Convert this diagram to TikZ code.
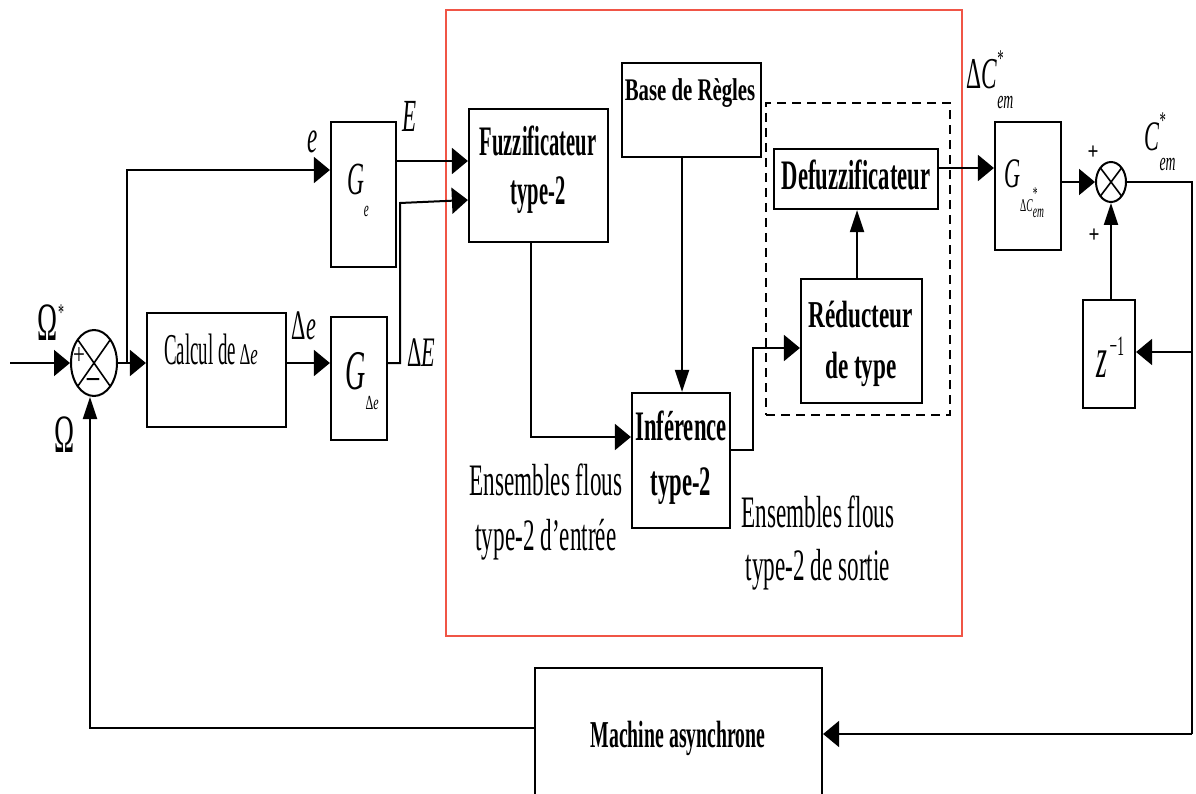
\documentclass[tikz,border=0pt]{standalone}
\usepackage{graphicx}
\usepackage{fontspec}
\setmainfont{Liberation Serif}
\usetikzlibrary{arrows.meta,shapes.geometric,calc}
\newcommand{\txt}[4]{\scalebox{#3}[1]{\fontsize{#1}{#2}\selectfont\begin{tabular}{@{}c@{}}#4\end{tabular}}}
\newcommand{\sm}[2]{{\fontsize{#1}{#1}\selectfont #2}}
\definecolor{redline}{RGB}{240,85,70}
\begin{document}
\begin{tikzpicture}[x=1pt,y=-1pt,line width=2pt,
  blk/.style={draw,line width=2.2pt,inner sep=0pt},
  sumj/.style={draw,ellipse,line width=2pt,inner sep=0pt},
  ha/.style={-{Triangle[length=16pt,width=26pt]}},
  va/.style={-{Triangle[length=22pt,width=14pt]}},
  tx/.style={inner sep=0pt}]
\clip (0,0) rectangle (1196,794);
\fill[white] (0,0) rectangle (1196,794);

% red frame
\node[draw=redline,line width=2pt,minimum width=516pt,minimum height=626pt,inner sep=0pt] (redbox) at (704,323) {};
% dashed frame
\node[draw,dashed,dash pattern=on 9pt off 6pt,line width=2pt,minimum width=184pt,minimum height=312pt,inner sep=0pt] (dbox) at (858,259) {};

% blocks
\node[blk,minimum width=139pt,minimum height=114pt] (calc) at (216.5,370) {};
\node[blk,minimum width=65pt,minimum height=145pt] (Ge) at (363.5,194.5) {};
\node[blk,minimum width=56pt,minimum height=123pt] (Gde) at (359,378.5) {};
\node[blk,minimum width=139pt,minimum height=133pt] (fuzz) at (538.5,175.5) {};
\node[blk,minimum width=139pt,minimum height=94pt] (base) at (691.5,110) {};
\node[blk,minimum width=98pt,minimum height=135pt] (infer) at (681,460.5) {};
\node[blk,minimum width=164pt,minimum height=60pt] (defuzz) at (856,179) {};
\node[blk,minimum width=121pt,minimum height=124pt] (reduct) at (861.5,341) {};
\node[blk,minimum width=66pt,minimum height=128pt] (Gdc) at (1028,186) {};
\node[blk,minimum width=52pt,minimum height=108pt] (z) at (1109,354) {};
\node[blk,minimum width=287pt,minimum height=150pt] (machine) at (678.5,743) {};

% summing junctions
\node[sumj,minimum width=46pt,minimum height=66pt] (s1) at (94,363) {};
\draw[line width=1.6pt] ($(s1.center)+(-16.3,-23.3)$) -- ($(s1.center)+(16.3,23.3)$);
\draw[line width=1.6pt] ($(s1.center)+(-16.3,23.3)$) -- ($(s1.center)+(16.3,-23.3)$);
\node[sumj,minimum width=30pt,minimum height=40pt] (s2) at (1111,182) {};
\draw[line width=1.6pt] ($(s2.center)+(-10.6,-14.1)$) -- ($(s2.center)+(10.6,14.1)$);
\draw[line width=1.6pt] ($(s2.center)+(-10.6,14.1)$) -- ($(s2.center)+(10.6,-14.1)$);

% texts in blocks
\node[tx] (calcT) at (211,355) {\txt{44}{49}{0.43}{Calcul de\hspace{8pt}\scalebox{1.3}[1]{\sm{30}{Δ\textit{e}}}}};
\node[tx] (fuzzT) at (538,170) {\txt{42}{49}{0.49}{\bfseries Fuzzificateur\\\bfseries type-2}};
\node[tx] (baseT) at (690,93) {\txt{31.5}{36}{0.66}{\bfseries Base de Règles}};
\node[tx] (inferT) at (681,457) {\txt{42}{55}{0.54}{\bfseries Inférence\\\bfseries type-2}};
\node[tx] (defuzzT) at (856,180) {\txt{42}{49}{0.54}{\bfseries Defuzzificateur}};
\node[tx] (reductT) at (861,343) {\txt{38}{51}{0.61}{\bfseries Réducteur\\\bfseries de type}};
\node[tx] (machT) at (678,739) {\txt{38}{44}{0.52}{\bfseries Machine asynchrone}};
\node[tx] (GeT) at (358,190) {\txt{46}{46}{0.51}{\textit{G}\raisebox{-22pt}{\sm{22}{\textit{e}}}}};
\node[tx] (GdeT) at (362,380) {\txt{56}{56}{0.5}{\textit{G}\raisebox{-20pt}{\scalebox{1.2}[1]{\sm{20}{Δ\textit{e}}}}}};
\node[tx] (GdcT) at (1024,188) {\txt{42}{42}{0.53}{\textit{G}\raisebox{-24pt}{\sm{18}{Δ\textit{C}\rlap{\raisebox{12pt}{*}}\raisebox{-6pt}{\textit{em}}}}}};
\node[tx] (zT) at (1110,358) {\txt{58}{58}{0.48}{\raisebox{-8pt}{\textit{z}}\hspace{6pt}\raisebox{14pt}{\sm{28}{−1}}}};

% signs
\node[tx] (p1) at (79,358) {\txt{30}{30}{0.7}{+}};
\node[tx] (m1) at (93,383) {\txt{30}{30}{0.9}{\bfseries −}};
\node[tx] (p2) at (1093,155) {\txt{24}{24}{0.8}{\bfseries +}};
\node[tx] (p3) at (1094,238) {\txt{24}{24}{0.8}{\bfseries +}};

% signal labels
\node[tx] (OmS) at (48,330) {\txt{54}{54}{0.5}{Ω\rlap{\raisebox{20pt}{\sm{24}{*}}}}};
\node[tx] (Om) at (65,442) {\txt{54}{54}{0.5}{Ω}};
\node[tx] (eL) at (313,143) {\txt{46}{46}{0.5}{\textit{e}}};
\node[tx] (EL) at (410,122) {\txt{46}{46}{0.5}{\textit{E}}};
\node[tx] (deL) at (304,331) {\txt{42}{42}{0.53}{Δ\textit{e}}};
\node[tx] (dEL) at (421,358) {\txt{42}{42}{0.53}{Δ\textit{E}}};
\node[tx] (dCL) at (990,80) {\txt{44}{44}{0.53}{Δ\textit{C}\rlap{\raisebox{22pt}{\sm{24}{*}}}\raisebox{-20pt}{\sm{26}{\textit{em}}}}};
\node[tx] (CL) at (1160,142) {\txt{42}{42}{0.53}{\textit{C}\rlap{\raisebox{22pt}{\sm{24}{*}}}\raisebox{-20pt}{\sm{26}{\textit{em}}}}};
\node[tx] (ensIn) at (546,512) {\txt{45}{55}{0.515}{Ensembles flous\\type-2 d’entrée}};
\node[tx] (ensOut) at (818,543) {\txt{45}{53}{0.515}{Ensembles flous\\type-2 de sortie}};

% connectors
\coordinate (in) at (10,363);
\draw[ha] (in) -- (s1.west);
\draw[ha] (s1.east) -- (s1.east -| calc.west);
\coordinate (br1) at (127,363);
\draw[ha] (br1) |- (Ge.west |- 0,170);
\draw[ha] (Ge.east |- 0,161) -- (fuzz.west |- 0,161);
\draw[ha] (calc.east |- 0,363) -- (Gde.west |- 0,363);
\coordinate (k1) at (400,363);
\coordinate (k2) at (400,203);
\draw[ha] (Gde.east |- 0,363) -- (k1) -- (k2) -- (fuzz.west |- 0,200);
\draw[ha] (fuzz.south -| 531,0) |- (infer.west |- 0,437);
\draw[va] (base.south -| 682,0) -- (infer.north -| 682,0);
\coordinate (k3) at (753,450);
\draw[ha] (infer.east |- 0,450) -- (k3) |- (reduct.west |- 0,348);
\draw[va] (reduct.north -| 857,0) -- (defuzz.south -| 857,0);
\draw[ha] (defuzz.east |- 0,168) -- (Gdc.west |- 0,168);
\draw[ha] (Gdc.east |- 0,182) -- (s2.west);
\coordinate (k4) at (1192,182);
\coordinate (k5) at (1192,734);
\draw (s2.east) -- (k4) -- (k5);
\draw[ha] (k5) -- (machine.east |- 0,734);
\coordinate (br2) at (1192,352);
\draw[ha] (br2) -- (z.east |- 0,352);
\draw[va] (z.north -| 1111,0) -- (s2.south);
\coordinate (k6) at (90,728);
\draw[va] (machine.west |- 0,728) -- (k6) -- (s1.south -| 90,0);
\end{tikzpicture}
\end{document}
